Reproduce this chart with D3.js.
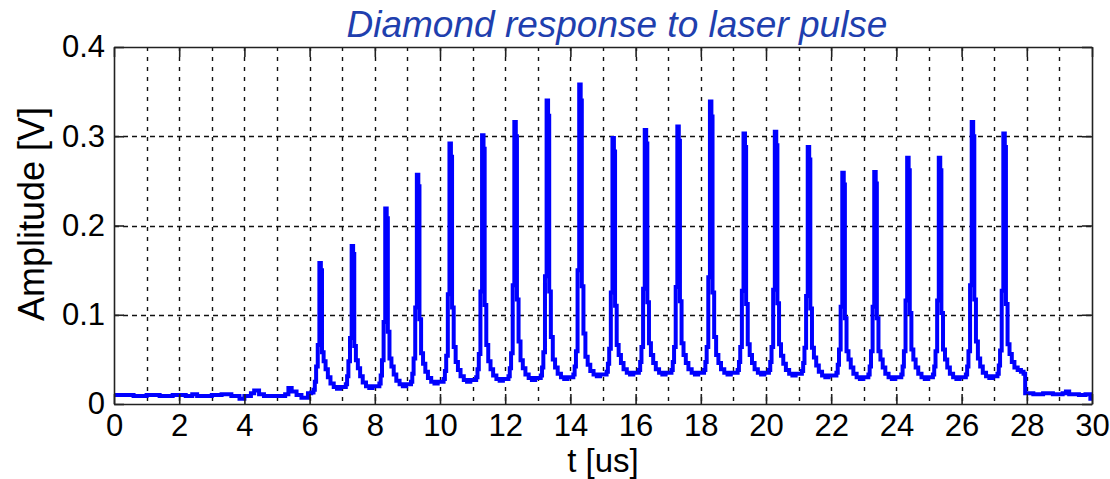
<!DOCTYPE html>
<html>
<head>
<meta charset="utf-8">
<script src="https://cdn.jsdelivr.net/npm/d3@7"></script>
<style>
  html, body { margin: 0; padding: 0; background: #ffffff; }
  svg { display: block; }
  text { font-family: "Liberation Sans", Arial, sans-serif; }
</style>
</head>
<body>
<svg id="chart" width="1110" height="479"></svg>
<script>
// Oscilloscope trace of the diamond detector, time in microseconds, amplitude in volts.
const baselineBefore = [
  [0.00, 0.010], [0.30, 0.010], [0.60, 0.009], [1.00, 0.010], [1.40, 0.009], [1.80, 0.010],
  [2.20, 0.009], [2.40, 0.011], [2.55, 0.009], [3.00, 0.010], [3.30, 0.011], [3.60, 0.009],
  [3.85, 0.006], [4.00, 0.009], [4.20, 0.012], [4.30, 0.015], [4.45, 0.011], [4.60, 0.009],
  [5.00, 0.009], [5.25, 0.011], [5.35, 0.018], [5.45, 0.014], [5.60, 0.010], [5.75, 0.007],
  [5.95, 0.012]
];

const pulseTrain = [
  [6.05, 0.013], [6.12, 0.016], [6.16, 0.025], [6.20, 0.042], [6.25, 0.066], [6.30, 0.158], [6.345, 0.150], [6.38, 0.058], [6.43, 0.048], [6.49, 0.039], [6.56, 0.030], [6.64, 0.023], [6.74, 0.019], [6.84, 0.017], [6.94, 0.019],
  [7.04, 0.019], [7.11, 0.022], [7.15, 0.031], [7.19, 0.048], [7.24, 0.074], [7.29, 0.177], [7.335, 0.168], [7.37, 0.065], [7.42, 0.049], [7.48, 0.040], [7.55, 0.031], [7.63, 0.024], [7.73, 0.020], [7.83, 0.018], [7.93, 0.020],
  [8.07, 0.020], [8.14, 0.023], [8.18, 0.032], [8.22, 0.049], [8.27, 0.092], [8.32, 0.219], [8.365, 0.208], [8.40, 0.081], [8.45, 0.051], [8.51, 0.042], [8.58, 0.033], [8.66, 0.026], [8.76, 0.022], [8.86, 0.020], [8.96, 0.022],
  [9.04, 0.022], [9.11, 0.025], [9.15, 0.034], [9.19, 0.051], [9.24, 0.108], [9.29, 0.257], [9.335, 0.244], [9.37, 0.095], [9.42, 0.057], [9.48, 0.045], [9.55, 0.036], [9.63, 0.029], [9.73, 0.025], [9.83, 0.023], [9.93, 0.025],
  [10.04, 0.025], [10.11, 0.028], [10.15, 0.037], [10.19, 0.054], [10.24, 0.123], [10.29, 0.292], [10.335, 0.277], [10.37, 0.108], [10.42, 0.064], [10.48, 0.047], [10.55, 0.038], [10.63, 0.031], [10.73, 0.027], [10.83, 0.025], [10.93, 0.027],
  [11.04, 0.027], [11.11, 0.030], [11.15, 0.039], [11.19, 0.056], [11.24, 0.126], [11.29, 0.301], [11.335, 0.286], [11.37, 0.111], [11.42, 0.066], [11.48, 0.048], [11.55, 0.039], [11.63, 0.032], [11.73, 0.028], [11.83, 0.026], [11.93, 0.028],
  [12.03, 0.028], [12.10, 0.031], [12.14, 0.040], [12.18, 0.057], [12.23, 0.133], [12.28, 0.316], [12.325, 0.300], [12.36, 0.117], [12.41, 0.070], [12.47, 0.049], [12.54, 0.040], [12.62, 0.033], [12.72, 0.029], [12.82, 0.027], [12.92, 0.029],
  [13.02, 0.029], [13.09, 0.032], [13.13, 0.041], [13.17, 0.058], [13.22, 0.143], [13.27, 0.340], [13.315, 0.323], [13.35, 0.126], [13.40, 0.075], [13.46, 0.050], [13.53, 0.041], [13.61, 0.034], [13.71, 0.030], [13.81, 0.028], [13.91, 0.030],
  [14.02, 0.030], [14.09, 0.033], [14.13, 0.042], [14.17, 0.059], [14.22, 0.150], [14.27, 0.358], [14.315, 0.340], [14.35, 0.132], [14.40, 0.079], [14.46, 0.053], [14.53, 0.044], [14.61, 0.037], [14.71, 0.033], [14.81, 0.031], [14.91, 0.033],
  [15.04, 0.033], [15.11, 0.036], [15.15, 0.045], [15.19, 0.062], [15.24, 0.125], [15.29, 0.298], [15.335, 0.283], [15.37, 0.110], [15.42, 0.066], [15.48, 0.055], [15.55, 0.046], [15.63, 0.039], [15.73, 0.035], [15.83, 0.033], [15.93, 0.035],
  [16.03, 0.035], [16.10, 0.038], [16.14, 0.047], [16.18, 0.064], [16.23, 0.129], [16.28, 0.307], [16.325, 0.292], [16.36, 0.114], [16.41, 0.068], [16.47, 0.055], [16.54, 0.046], [16.62, 0.039], [16.72, 0.035], [16.82, 0.033], [16.92, 0.035],
  [17.03, 0.035], [17.10, 0.038], [17.14, 0.047], [17.18, 0.064], [17.23, 0.131], [17.28, 0.311], [17.325, 0.295], [17.36, 0.115], [17.41, 0.068], [17.47, 0.055], [17.54, 0.046], [17.62, 0.039], [17.72, 0.035], [17.82, 0.033], [17.92, 0.035],
  [18.03, 0.035], [18.10, 0.038], [18.14, 0.047], [18.18, 0.064], [18.23, 0.142], [18.28, 0.339], [18.325, 0.322], [18.36, 0.125], [18.41, 0.075], [18.47, 0.055], [18.54, 0.046], [18.62, 0.039], [18.72, 0.035], [18.82, 0.033], [18.92, 0.035],
  [19.06, 0.035], [19.13, 0.038], [19.17, 0.047], [19.21, 0.064], [19.26, 0.127], [19.31, 0.303], [19.355, 0.288], [19.39, 0.112], [19.44, 0.067], [19.50, 0.055], [19.57, 0.046], [19.65, 0.039], [19.75, 0.035], [19.85, 0.033], [19.95, 0.035],
  [20.02, 0.035], [20.09, 0.038], [20.13, 0.047], [20.17, 0.064], [20.22, 0.128], [20.27, 0.305], [20.315, 0.290], [20.35, 0.113], [20.40, 0.067], [20.46, 0.054], [20.53, 0.045], [20.61, 0.038], [20.71, 0.034], [20.81, 0.032], [20.91, 0.034],
  [21.03, 0.034], [21.10, 0.037], [21.14, 0.046], [21.18, 0.063], [21.23, 0.121], [21.28, 0.288], [21.325, 0.274], [21.36, 0.107], [21.41, 0.063], [21.47, 0.052], [21.54, 0.043], [21.62, 0.036], [21.72, 0.032], [21.82, 0.030], [21.92, 0.032],
  [22.09, 0.032], [22.16, 0.035], [22.20, 0.044], [22.24, 0.061], [22.29, 0.109], [22.34, 0.259], [22.385, 0.246], [22.42, 0.096], [22.47, 0.059], [22.53, 0.050], [22.60, 0.041], [22.68, 0.034], [22.78, 0.030], [22.88, 0.028], [22.98, 0.030],
  [23.07, 0.030], [23.14, 0.033], [23.18, 0.042], [23.22, 0.059], [23.27, 0.109], [23.32, 0.260], [23.365, 0.247], [23.40, 0.096], [23.45, 0.059], [23.51, 0.050], [23.58, 0.041], [23.66, 0.034], [23.76, 0.030], [23.86, 0.028], [23.96, 0.030],
  [24.08, 0.030], [24.15, 0.033], [24.19, 0.042], [24.23, 0.059], [24.28, 0.116], [24.33, 0.276], [24.375, 0.262], [24.41, 0.102], [24.46, 0.061], [24.52, 0.050], [24.59, 0.041], [24.67, 0.034], [24.77, 0.030], [24.87, 0.028], [24.97, 0.030],
  [25.05, 0.030], [25.12, 0.033], [25.16, 0.042], [25.20, 0.059], [25.25, 0.116], [25.30, 0.276], [25.345, 0.262], [25.38, 0.102], [25.43, 0.061], [25.49, 0.050], [25.56, 0.041], [25.64, 0.034], [25.74, 0.030], [25.84, 0.028], [25.94, 0.030],
  [26.06, 0.030], [26.13, 0.033], [26.17, 0.042], [26.21, 0.059], [26.26, 0.133], [26.31, 0.316], [26.355, 0.300], [26.39, 0.117], [26.44, 0.070], [26.50, 0.051], [26.57, 0.042], [26.65, 0.035], [26.75, 0.031], [26.85, 0.029], [26.95, 0.031],
  [27.03, 0.031], [27.10, 0.034], [27.14, 0.043], [27.18, 0.060], [27.23, 0.127], [27.28, 0.303], [27.325, 0.288], [27.36, 0.112], [27.41, 0.067], [27.47, 0.056], [27.54, 0.047], [27.62, 0.041], [27.72, 0.038], [27.82, 0.036], [27.90, 0.034]
];

const baselineAfter = [
  [27.95, 0.012], [28.20, 0.011], [28.50, 0.012], [28.80, 0.011], [29.10, 0.012], [29.20, 0.014],
  [29.30, 0.011], [29.60, 0.010], [29.80, 0.011], [29.95, 0.006], [30.00, 0.006]
];

const xTickValues = [0, 2, 4, 6, 8, 10, 12, 14, 16, 18, 20, 22, 24, 26, 28, 30];
const xGridValues = [1, 2, 3, 4, 5, 6, 7, 8, 9, 10, 11, 12, 13, 14, 15, 16, 17, 18, 19, 20, 21, 22, 23, 24, 25, 26, 27, 28, 29];
const yTickValues = [0, 0.1, 0.2, 0.3, 0.4];
const yGridValues = [0.1, 0.2, 0.3];

const titleText = "Diamond response to laser pulse";
const xLabelText = "t [us]";
const yLabelText = "Amplitude [V]";

// ---- layout ----
const plot = { left: 114, right: 1092, top: 47, bottom: 404 };

const svg = d3.select("#chart");
const x = d3.scaleLinear().domain([0, 30]).range([plot.left, plot.right]);
const y = d3.scaleLinear().domain([0, 0.4]).range([plot.bottom, plot.top]);

// grid
const grid = svg.append("g").attr("class", "grid");
grid.selectAll("line.vgrid").data(xGridValues).join("line")
  .attr("class", "vgrid")
  .attr("x1", d => Math.round(x(d)) + 0.5).attr("x2", d => Math.round(x(d)) + 0.5)
  .attr("y1", plot.top).attr("y2", plot.bottom)
  .attr("stroke", "#111").attr("stroke-width", 1.4)
  .attr("stroke-dasharray", "4,6");
grid.selectAll("line.hgrid").data(yGridValues).join("line")
  .attr("class", "hgrid")
  .attr("x1", plot.left).attr("x2", plot.right)
  .attr("y1", d => Math.round(y(d)) + 0.5).attr("y2", d => Math.round(y(d)) + 0.5)
  .attr("stroke", "#111").attr("stroke-width", 1.4)
  .attr("stroke-dasharray", "5,4");

// trace
svg.append("clipPath").attr("id", "plot-clip")
  .append("rect")
  .attr("x", plot.left).attr("y", plot.top - 2)
  .attr("width", plot.right - plot.left).attr("height", plot.bottom - plot.top + 2);

const trace = baselineBefore.concat(pulseTrain, baselineAfter);
const line = d3.line()
  .x(d => x(d[0]))
  .y(d => y(d[1]))
  .curve(d3.curveStepAfter);

svg.append("path")
  .datum(trace)
  .attr("clip-path", "url(#plot-clip)")
  .attr("fill", "none")
  .attr("stroke", "#0000ff")
  .attr("stroke-width", 4)
  .attr("stroke-linejoin", "miter")
  .attr("d", line);

// axes with inward ticks
const tickLen = 10;
const fontSize = 31;

const xAxisBottom = d3.axisBottom(x).tickValues(xTickValues).tickFormat(d3.format("d"))
  .tickSizeInner(-tickLen).tickSizeOuter(0).tickPadding(10);
const xAxisTop = d3.axisTop(x).tickValues(xTickValues).tickFormat("")
  .tickSizeInner(-tickLen).tickSizeOuter(0);
const yAxisLeft = d3.axisLeft(y).tickValues(yTickValues).tickFormat(d => d === 0 ? "0" : d3.format(".1f")(d))
  .tickSizeInner(-tickLen).tickSizeOuter(0).tickPadding(9);
const yAxisRight = d3.axisRight(y).tickValues(yTickValues).tickFormat("")
  .tickSizeInner(-tickLen).tickSizeOuter(0);

function styleAxis(g) {
  g.select(".domain").attr("stroke", "#222").attr("stroke-width", 1.6);
  g.selectAll(".tick line").attr("stroke", "#222").attr("stroke-width", 1.6);
  g.selectAll(".tick text")
    .attr("fill", "#000")
    .style("font-family", "'Liberation Sans', Arial, sans-serif")
    .style("font-size", fontSize + "px");
}

svg.append("g").attr("transform", `translate(0,${plot.bottom})`).call(xAxisBottom).call(styleAxis);
svg.append("g").attr("transform", `translate(0,${plot.top})`).call(xAxisTop).call(styleAxis);
svg.append("g").attr("transform", `translate(${plot.left},0)`).call(yAxisLeft).call(styleAxis);
svg.append("g").attr("transform", `translate(${plot.right},0)`).call(yAxisRight).call(styleAxis);

// labels
svg.append("text")
  .attr("x", 617).attr("y", 37)
  .attr("text-anchor", "middle")
  .attr("fill", "#1f3fae")
  .style("font-style", "italic")
  .style("font-size", "37px")
  .text(titleText);

svg.append("text")
  .attr("x", 603).attr("y", 472)
  .attr("text-anchor", "middle")
  .attr("fill", "#000")
  .style("font-size", "33px")
  .text(xLabelText);

svg.append("text")
  .attr("transform", "translate(44,214) rotate(-90)")
  .attr("text-anchor", "middle")
  .attr("fill", "#000")
  .style("font-size", "36px")
  .text(yLabelText);
</script>
</body>
</html>
